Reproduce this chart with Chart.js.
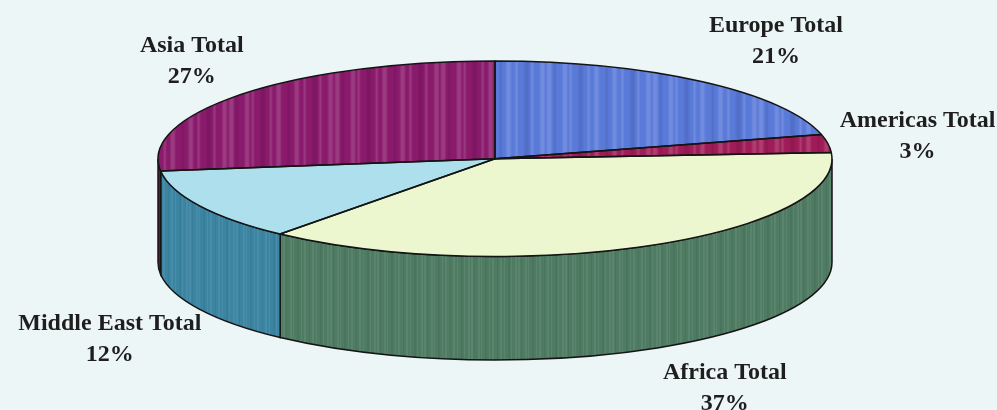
<!DOCTYPE html>
<html>
<head>
<meta charset="utf-8">
<script src="https://cdn.jsdelivr.net/npm/chart.js@4.4.1/dist/chart.umd.min.js"></script>
<style>
  html, body { margin: 0; padding: 0; background: #edf6f6; }
  #wrap { width: 997px; height: 410px; }
</style>
</head>
<body>
<div id="wrap"><canvas id="regionChart" width="997" height="410"></canvas></div>
<script>
// Share of total by region, clockwise from 12 o'clock
const regions = ['Europe Total', 'Americas Total', 'Africa Total', 'Middle East Total', 'Asia Total'];
const shares = [21, 3, 37, 12, 27];
const topColors = ['#5a7ad9', '#a01c58', '#ecf6cf', '#aedfec', '#8a1a6c'];
const sideColors = ['#3f56a6', '#7a1442', '#4e7b62', '#3b84a2', '#6c1452'];
const striped = [true, true, false, false, true];

const TILT = 0.29;          // ry / rx of the top face
const OUTLINE = '#141414';

// thin vertical streaks over a flat colour
function stripePattern(base, strength) {
  const c = document.createElement('canvas');
  c.width = 47; c.height = 4;
  const g = c.getContext('2d');
  g.fillStyle = base;
  g.fillRect(0, 0, c.width, c.height);
  const lines = [1, 4, 8, 11, 15, 19, 22, 27, 30, 34, 38, 41, 45];
  lines.forEach((x, i) => {
    g.fillStyle = i % 3 === 1 ? `rgba(0,0,0,${strength * 0.6})` : `rgba(255,255,255,${strength})`;
    g.fillRect(x, 0, i % 2 ? 1 : 2, c.height);
  });
  return g.createPattern(c, 'repeat');
}

const topFills = topColors.map((c, i) => striped[i] ? stripePattern(c, 0.14) : c);
const sideFills = sideColors.map(c => stripePattern(c, 0.07));

function geometry(chart) {
  const a = chart.chartArea;
  const rx = (a.right - a.left) / 2;
  const ry = rx * TILT;
  return { cx: (a.left + a.right) / 2, cy: a.top + ry, rx, ry, depth: (a.bottom - a.top) - 2 * ry };
}

const pie3d = {
  id: 'pie3d',
  beforeDatasetsDraw(chart) {
    const ctx = chart.ctx;
    const g = geometry(chart);
    const arcs = chart.getDatasetMeta(0).data;

    // side walls, only the front half (0..PI) shows
    ctx.lineWidth = 1.5;
    ctx.strokeStyle = OUTLINE;
    arcs.forEach((arc, i) => {
      const s = Math.max(arc.startAngle, 0);
      const e = Math.min(arc.endAngle, Math.PI);
      if (e <= s) return;
      ctx.beginPath();
      ctx.ellipse(g.cx, g.cy, g.rx, g.ry, 0, s, e);
      ctx.ellipse(g.cx, g.cy + g.depth, g.rx, g.ry, 0, e, s, true);
      ctx.closePath();
      ctx.fillStyle = sideFills[i];
      ctx.fill();
      ctx.stroke();
    });

    // squash the library's circle onto the top ellipse
    const arc = arcs[0];
    const r = arc.outerRadius;
    ctx.save();
    ctx.translate(g.cx, g.cy);
    ctx.scale(g.rx / r, g.ry / r);
    ctx.translate(-arc.x, -arc.y);
  },
  afterDatasetsDraw(chart) {
    const ctx = chart.ctx;
    ctx.restore();
    const g = geometry(chart);
    ctx.save();
    ctx.lineWidth = 1.5;
    ctx.strokeStyle = OUTLINE;
    ctx.lineJoin = 'round';
    chart.getDatasetMeta(0).data.forEach(arc => {
      ctx.beginPath();
      ctx.moveTo(g.cx, g.cy);
      ctx.ellipse(g.cx, g.cy, g.rx, g.ry, 0, arc.startAngle, arc.endAngle);
      ctx.closePath();
      ctx.stroke();
    });
    ctx.restore();
  },
  afterDraw(chart) {
    const ctx = chart.ctx;
    const g = geometry(chart);
    const arcs = chart.getDatasetMeta(0).data;
    const total = shares.reduce((a, b) => a + b, 0);
    ctx.save();
    ctx.font = 'bold 24px "Liberation Serif", "Times New Roman", serif';
    ctx.fillStyle = '#1e1e1e';
    ctx.textAlign = 'center';
    arcs.forEach((arc, i) => {
      const mid = (arc.startAngle + arc.endAngle) / 2;
      const c = Math.cos(mid), s = Math.sin(mid);
      const front = s > 0;
      // labels sit just outside the rim; right-hand ones start a bit further out
      const gap = c < 0 ? -2 : (front ? 33 : 12);
      const px = g.cx + (g.rx + gap) * c;
      const py = front ? g.cy + (g.ry + 22) * s + g.depth + 18 : g.cy + (g.ry + 52) * s;
      const lines = [regions[i], Math.round(shares[i] / total * 100) + '%'];
      const w = Math.max(...lines.map(t => ctx.measureText(t).width));
      let x = px;
      if (c > 0.3) x = px + w / 2;
      else if (c < -0.3) x = px - w / 2;
      ctx.fillText(lines[0], x, py - 8);
      ctx.fillText(lines[1], x, py + 23);
    });
    ctx.restore();
  }
};

new Chart(document.getElementById('regionChart'), {
  type: 'pie',
  data: {
    labels: regions,
    datasets: [{
      data: shares,
      backgroundColor: topFills,
      borderWidth: 0,
      hoverOffset: 0,
    }],
  },
  options: {
    responsive: false,
    animation: false,
    events: [],
    layout: { padding: { left: 158, right: 165, top: 61, bottom: 50 } },
    plugins: { legend: { display: false }, tooltip: { enabled: false } },
  },
  plugins: [pie3d],
});
</script>
</body>
</html>
